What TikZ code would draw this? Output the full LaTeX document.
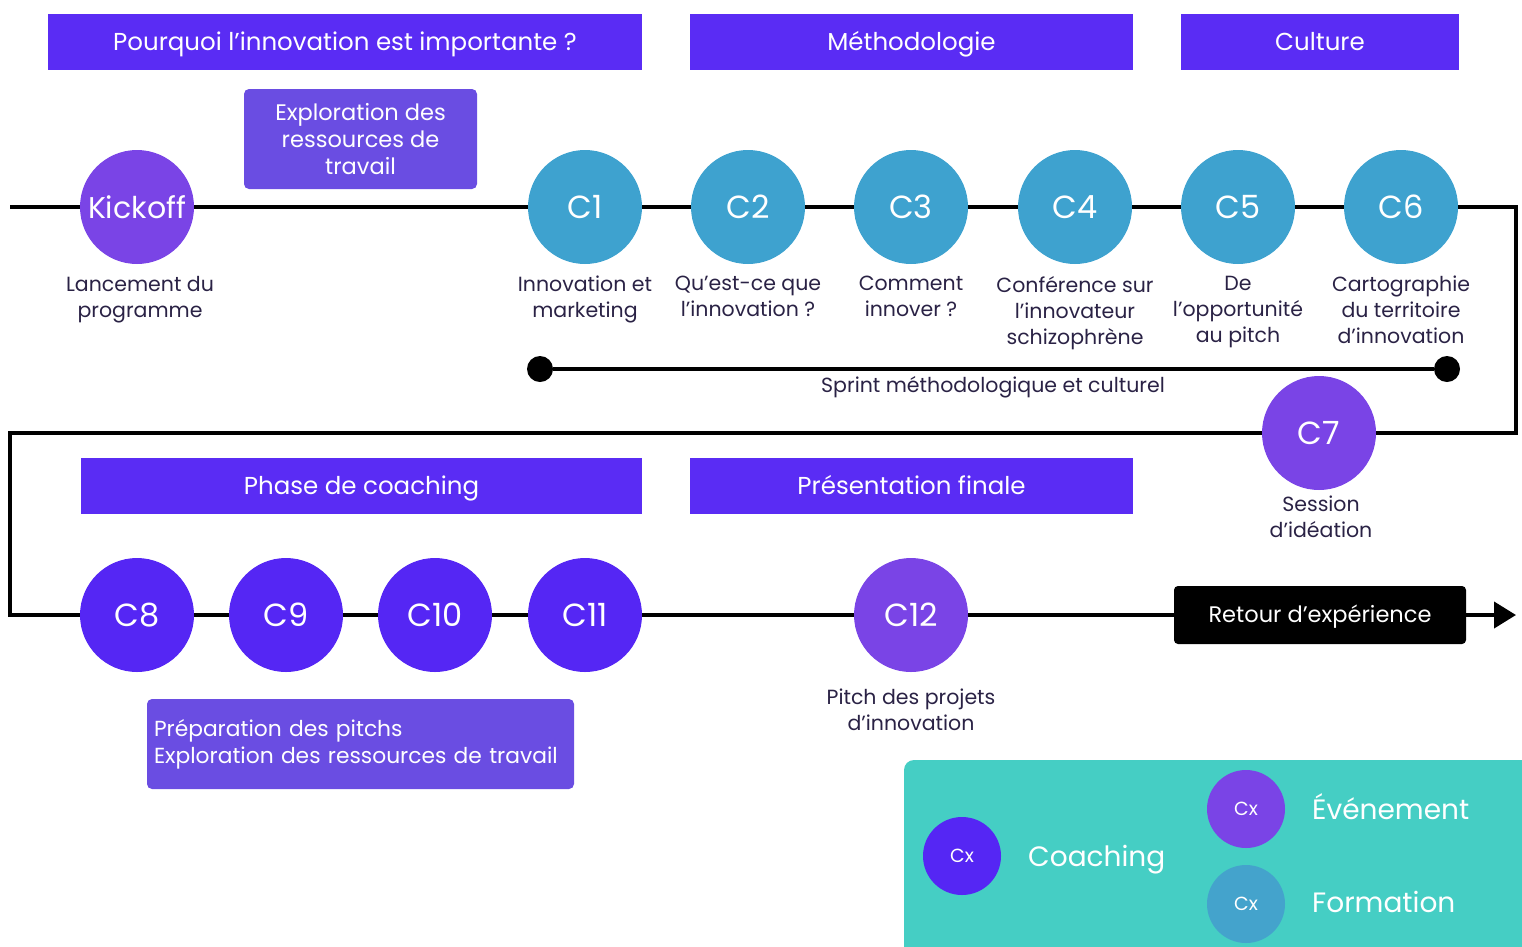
\documentclass[tikz,border=0pt]{standalone}
\usepackage{fontspec}
\setmainfont{Poppins}
\usetikzlibrary{arrows.meta}
\definecolor{banner}{HTML}{5A2CF4}
\definecolor{coach}{HTML}{5526F4}
\definecolor{event}{HTML}{7A44E6}
\definecolor{form}{HTML}{3EA2CF}
\definecolor{formleg}{HTML}{44A3CC}
\definecolor{legbg}{HTML}{45CEC4}
\definecolor{explo}{HTML}{6A4DE2}
\definecolor{txt}{HTML}{2A2245}
\tikzset{
  bannerbox/.style={fill=banner, text=white, minimum height=56pt, inner sep=0pt, text height=17pt, text depth=0pt, font=\fontsize{24.5}{27}\selectfont},
  circ/.style={circle, minimum size=114pt, inner sep=0pt, text=white, font=\fontsize{32}{36}\selectfont},
  formc/.style={circ, fill=form},
  coachc/.style={circ, fill=coach},
  eventc/.style={circ, fill=event},
  lbl/.style={text=txt, align=center, font=\fontsize{20.5}{26}\selectfont, inner sep=0pt, anchor=north, execute at begin node={\rule{0pt}{16pt}}},
  sprintlbl/.style={text=txt, font=\fontsize{20.5}{26}\selectfont, inner sep=0pt},
  mainline/.style={line width=4pt, black},
  explobox/.style={fill=explo, rounded corners=5pt, text=white, inner sep=0pt},
  legc/.style={circle, minimum size=78pt, inner sep=0pt, text=white, font=\fontsize{19}{22}\selectfont},
  legtxt/.style={text=white, anchor=west, inner sep=0pt, text height=20pt, text depth=0pt, font=\fontsize{28}{32}\selectfont},
  dot/.style={circle, fill=black, minimum size=26pt, inner sep=0pt},
}
\begin{document}
\begin{tikzpicture}[x=1pt,y=-1pt]
\useasboundingbox (0,0) rectangle (1522,946);
% banners
\node[bannerbox, minimum width=594pt] (b1) at (345,42) {Pourquoi l’innovation est importante ?};
\node[bannerbox, minimum width=443pt] (b2) at (911.5,42) {Méthodologie};
\node[bannerbox, minimum width=278pt] (b3) at (1320,42) {Culture};
\node[bannerbox, minimum width=561pt] (b4) at (361.5,486) {Phase de coaching};
\node[bannerbox, minimum width=443pt] (b5) at (911.5,486) {Présentation finale};
% exploration box
\node[explobox, minimum width=233pt, minimum height=100pt, align=center, font=\fontsize{22.5}{27}\selectfont] (ex1) at (360.5,139) {Exploration des\\ressources de\\travail};
% circles
\node[eventc, font=\fontsize{30}{34}\selectfont] (K) at (137,207) {Kickoff};
\node[formc] (C1) at (585,207) {C1};
\node[formc] (C2) at (748,207) {C2};
\node[formc] (C3) at (911,207) {C3};
\node[formc] (C4) at (1075,207) {C4};
\node[formc] (C5) at (1238,207) {C5};
\node[formc] (C6) at (1401,207) {C6};
\node[eventc] (C7) at (1319,433) {C7};
\node[coachc] (C8) at (137,615) {C8};
\node[coachc] (C9) at (286,615) {C9};
\node[coachc] (C10) at (435,615) {C10};
\node[coachc] (C11) at (585,615) {C11};
\node[eventc] (C12) at (911,615) {C12};
\node[fill=black, rounded corners=4pt, text=white, minimum width=292pt, minimum height=58pt, inner sep=0pt, text height=15pt, text depth=0pt, font=\fontsize{22.5}{26}\selectfont] (R) at (1320,615) {Retour d’expérience};
% path coordinates
\coordinate (s1) at (10,207);
\coordinate (r1) at (1516,207);
\coordinate (r2) at (1516,433);
\coordinate (l1) at (10,433);
\coordinate (l2) at (10,615);
\coordinate (e1) at (1516,615);
\draw[mainline] (s1) -- (K) -- (C1) -- (C2) -- (C3) -- (C4) -- (C5) -- (C6);
\draw[mainline] (C6) -- (r1) -- (r2) -- (C7);
\draw[mainline] (C7) -- (l1) -- (l2) -- (C8);
\draw[mainline] (C8) -- (C9) -- (C10) -- (C11) -- (C12) -- (R);
\draw[mainline, -{Triangle[length=22pt,width=26pt]}] (R) -- (e1);
% labels
\node[lbl] (lK) at (140,276) {Lancement du\\programme};
\node[lbl] (l1a) at (585,276) {Innovation et\\marketing};
\node[lbl] (l2a) at (748,276) {Qu’est-ce que\\l’innovation ?};
\node[lbl] (l3a) at (911,276) {Comment\\innover ?};
\node[lbl] (l4a) at (1075,276) {Conférence sur\\l'innovateur\\schizophrène};
\node[lbl] (l5a) at (1238,276) {De\\l’opportunité\\au pitch};
\node[lbl] (l6a) at (1401,276) {Cartographie\\du territoire\\d'innovation};
\node[lbl] (l7a) at (1321,496) {Session\\d’idéation};
\node[lbl] (l12a) at (911,689) {Pitch des projets\\d’innovation};
% sprint
\node[dot] (d1) at (540,369) {};
\node[dot] (d2) at (1447,369) {};
\draw[mainline] (d1) -- (d2);
\node[sprintlbl] (sp) at (993,387) {Sprint méthodologique et culturel};
% preparation box
\node[explobox, minimum width=427pt, minimum height=90pt, align=left, text width=413pt, inner xsep=7pt, font=\fontsize{21.8}{27}\selectfont] (ex2) at (360.5,744) {Préparation des pitchs\\Exploration des ressources de travail};
% legend
\fill[legbg, rounded corners=10pt] (904,760) rectangle (1560,980);
\node[legc, fill=coach] (lc1) at (962,856) {Cx};
\node[legc, fill=event] (lc2) at (1246,809) {Cx};
\node[legc, fill=formleg] (lc3) at (1246,904) {Cx};
\node[legtxt] (lt1) at (1028,856) {Coaching};
\node[legtxt] (lt2) at (1312,809) {Événement};
\node[legtxt] (lt3) at (1312,902) {Formation};
\end{tikzpicture}
\end{document}
